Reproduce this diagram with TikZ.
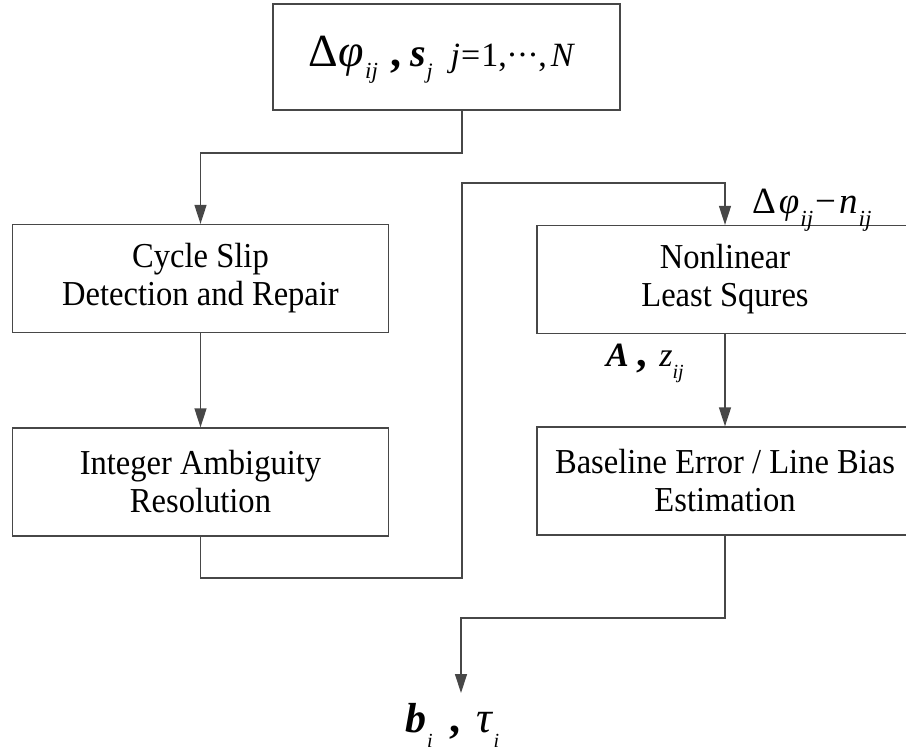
\documentclass[tikz,border=0pt]{standalone}
\usepackage{fontspec}
\setmainfont{Liberation Serif}
\newfontfamily\boxfont[FakeStretch=0.93]{Liberation Serif}
\usetikzlibrary{arrows.meta}

% lowered italic index: size in pt, then the text
\newcommand\lsub[2]{\raisebox{-0.36em}{\fontsize{#1}{#1}\selectfont\itshape #2}}
% heavy separating comma
\newcommand\hcomma[1]{{\fontsize{#1}{#1}\selectfont\bfseries ,}}
% centred dots
\newcommand\cdotsrow{\raisebox{0.28em}{.\kern2pt.\kern2pt.}}

\tikzset{
  ink/.style={draw=black!72, line width=1.3pt},
  box/.style={ink, rectangle, minimum width=376pt, minimum height=108pt,
    inner sep=0pt, align=center, font=\boxfont\fontsize{35}{38}\selectfont},
  arr/.style={ink, -{Triangle[length=19pt,width=12pt]}},
  lab/.style={inner sep=0pt, anchor=base west},
}

\begin{document}
\begin{tikzpicture}[x=1pt,y=-1pt]
\useasboundingbox (0,0) rectangle (906,750);
\clip (0,0) rectangle (906,750);

% process boxes
\node[box, minimum width=347pt, minimum height=106pt] (src) at (446.5,57) {};
\node[box] (cs) at (200.5,278.5) {Cycle Slip\\Detection and Repair};
\node[box] (ia) at (200.5,482) {Integer Ambiguity\\Resolution};
\node[box] (nl) at (725,279.5) {Nonlinear\\Least Squres};
\node[box] (bl) at (725,481) {Baseline Error / Line Bias\\Estimation};

% input quantities
\node[lab] (inp) at (308,66) {\fontsize{34}{40}\selectfont
  {\fontsize{46}{46}\selectfont Δ\kern1pt{\itshape φ}}\kern1pt\lsub{23}{ij}\kern12pt\hcomma{44}\kern9pt{\fontsize{40}{40}\selectfont\bfseries\itshape s}\kern1pt\lsub{22}{j}\kern18pt{\itshape j}\kern1pt=\kern1pt1,\kern1pt\cdotsrow\kern1pt,\kern4pt{\itshape N}};

% intermediate quantities
\node[lab] (res) at (752,213) {\fontsize{37}{38}\selectfont
  Δ\kern3pt{\itshape φ}\kern1pt\lsub{23}{ij}\kern2pt−\kern3pt{\itshape n}\kern1pt\lsub{23}{ij}};
\node[lab] (amat) at (606,366) {\fontsize{34}{36}\selectfont
  {\bfseries\itshape A}\kern8pt\hcomma{42}\kern12pt{\itshape z}\lsub{20}{ij}};

% output quantities
\node[lab] (out) at (405,732) {\fontsize{42}{44}\selectfont
  {\bfseries\itshape b}\kern1pt\lsub{20}{i}\kern17pt\hcomma{44}\kern16pt{\fontsize{44}{44}\selectfont\itshape τ}\kern1pt\lsub{20}{i}};

% junction points of the connectors
\coordinate (j1) at (462,153);
\coordinate (j3) at (462,578);
\coordinate (j4) at (462,183);
\coordinate (j5) at (461,618);
\coordinate (tip) at (461,693);

% connectors
\draw[arr] (src.south -| j1) -- (j1) -- (j1 -| cs.north) -- (cs.north);
\draw[arr] (cs.south) -- (ia.north);
\draw[arr] (ia.south) -- (ia.south |- j3) -- (j3) -- (j4) -- (j4 -| nl.north) -- (nl.north);
\draw[arr] (nl.south) -- (bl.north);
\draw[arr] (bl.south) -- (bl.south |- j5) -- (j5) -- (tip);
\end{tikzpicture}
\end{document}
